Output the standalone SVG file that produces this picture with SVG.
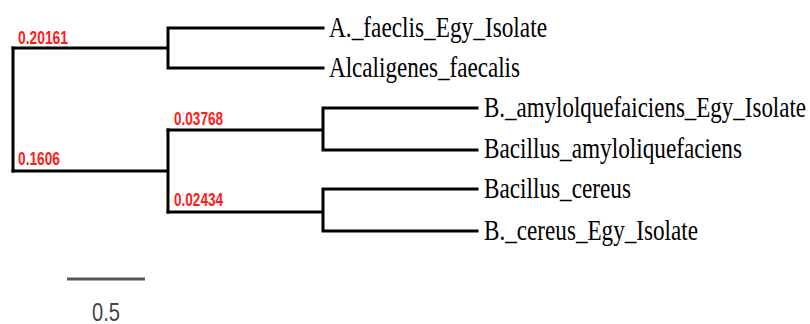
<svg xmlns="http://www.w3.org/2000/svg" width="810" height="324" viewBox="0 0 810 324">
  <style>
    .br { fill: none; stroke: #000; stroke-width: 3; stroke-linecap: square; }
    .leaf { font-family: "Liberation Serif", "Times New Roman", serif; font-size: 30px; fill: #000; }
    .bl { font-family: "Liberation Sans", Arial, sans-serif; font-size: 18px; font-weight: bold; fill: #ff1a1a; }
    .scale { fill: none; stroke: #555; stroke-width: 3; }
    .st { font-family: "Liberation Sans", Arial, sans-serif; font-size: 26px; fill: #444; }
  </style>

  <!-- tree branches -->
  <g id="connectors">
    <path class="br" d="M13,48 V171"/>
    <path class="br" d="M13,48 H168 M168,28 V68 M168,28 H323 M168,68 H323"/>
    <path class="br" d="M13,171 H168 M168,130 V212"/>
    <path class="br" d="M168,130 H323 M323,108 V150 M323,108 H477 M323,150 H477"/>
    <path class="br" d="M168,212 H323 M323,189 V231 M323,189 H477 M323,231 H477"/>
  </g>

  <!-- branch support values -->
  <g id="branch-labels">
    <text class="bl" x="18" y="44" textLength="50" lengthAdjust="spacingAndGlyphs">0.20161</text>
    <text class="bl" x="18" y="165" textLength="42" lengthAdjust="spacingAndGlyphs">0.1606</text>
    <text class="bl" x="174" y="125" textLength="49" lengthAdjust="spacingAndGlyphs">0.03768</text>
    <text class="bl" x="174" y="206" textLength="49" lengthAdjust="spacingAndGlyphs">0.02434</text>
  </g>

  <!-- taxa -->
  <g id="leaf-a-faeclis">
    <text class="leaf" x="329" y="37" textLength="218" lengthAdjust="spacingAndGlyphs">A._faeclis_Egy_Isolate</text>
  </g>
  <g id="leaf-alcaligenes">
    <text class="leaf" x="329" y="77" textLength="191" lengthAdjust="spacingAndGlyphs">Alcaligenes_faecalis</text>
  </g>
  <g id="leaf-b-amylo">
    <text class="leaf" x="484" y="117" textLength="322" lengthAdjust="spacingAndGlyphs">B._amylolquefaiciens_Egy_Isolate</text>
  </g>
  <g id="leaf-bacillus-amylo">
    <text class="leaf" x="484" y="158" textLength="258" lengthAdjust="spacingAndGlyphs">Bacillus_amyloliquefaciens</text>
  </g>
  <g id="leaf-bacillus-cereus">
    <text class="leaf" x="484" y="198" textLength="147" lengthAdjust="spacingAndGlyphs">Bacillus_cereus</text>
  </g>
  <g id="leaf-b-cereus">
    <text class="leaf" x="484" y="240" textLength="214" lengthAdjust="spacingAndGlyphs">B._cereus_Egy_Isolate</text>
  </g>

  <!-- scale bar -->
  <g id="scale-bar">
    <path class="scale" d="M67,279 H145"/>
    <text class="st" x="92" y="321" textLength="28" lengthAdjust="spacingAndGlyphs">0.5</text>
  </g>
</svg>
